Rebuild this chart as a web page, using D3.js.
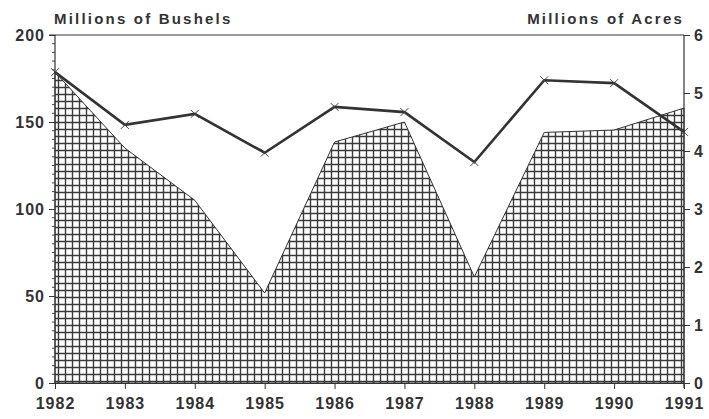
<!DOCTYPE html>
<html>
<head>
<meta charset="utf-8">
<script src="https://cdn.jsdelivr.net/npm/d3@7"></script>
<style>
  body { margin: 0; background: #fff; }
  text { font-family: "Liberation Sans", Arial, sans-serif; font-weight: bold; fill: #333; }
  .tick-label { font-size: 16px; letter-spacing: 1px; }
  .axis-title { font-size: 15px; letter-spacing: 2.2px; }
</style>
</head>
<body>
<div id="chart"></div>
<script>
const years = [1982, 1983, 1984, 1985, 1986, 1987, 1988, 1989, 1990, 1991];
const bushels = [178.7, 135, 105, 51.7, 138.5, 150, 61, 144, 145.4, 158];
const acres = [5.36, 4.45, 4.64, 3.97, 4.76, 4.67, 3.81, 5.22, 5.17, 4.33];
const leftTicks = [0, 50, 100, 150, 200];
const rightTicks = [0, 1, 2, 3, 4, 5, 6];

const width = 709, height = 419;
const margin = {top: 35, right: 25, bottom: 36, left: 55};
const innerwidth = width - margin.left - margin.right;
const innerheight = height - margin.top - margin.bottom;

const svg = d3.select("#chart")
    .append("svg")
    .attr("width", width)
    .attr("height", height);

// cross-hatch fill for the area
const pat = svg.append("defs").append("pattern")
    .attr("id", "grid")
    .attr("patternUnits", "userSpaceOnUse")
    .attr("width", 7)
    .attr("height", 7);
pat.append("path")
    .attr("d", "M3.5 0 V7 M0 3.5 H7")
    .attr("stroke", "#3a3a3a")
    .attr("stroke-width", 1.4);

const inner = svg.append("g")
    .attr("transform", `translate(${margin.left},${margin.top})`);

const xScale = d3.scaleLinear()
    .domain([1982, 1991])
    .range([0, innerwidth]);

const yLeft = d3.scaleLinear()
    .domain([0, 200])
    .range([innerheight, 0]);

const yRight = d3.scaleLinear()
    .domain([0, 6])
    .range([innerheight, 0]);

const area = d3.area()
    .x((d, i) => xScale(years[i]))
    .y0(innerheight)
    .y1(d => yLeft(d));

inner.append("path")
    .datum(bushels)
    .attr("d", area)
    .attr("fill", "url(#grid)")
    .attr("stroke", "#333")
    .attr("stroke-width", 1);

const line = d3.line()
    .x((d, i) => xScale(years[i]))
    .y(d => yRight(d));

inner.append("path")
    .datum(acres)
    .attr("d", line)
    .attr("fill", "none")
    .attr("stroke", "#333")
    .attr("stroke-width", 2.6);

inner.selectAll(".mark")
    .data(acres)
    .join("path")
    .attr("class", "mark")
    .attr("transform", (d, i) => `translate(${xScale(years[i])},${yRight(d)})`)
    .attr("d", "M-4 -4 L4 4 M-4 4 L4 -4")
    .attr("stroke", "#444")
    .attr("stroke-width", 1);

// top frame line
inner.append("line")
    .attr("x1", -6).attr("x2", innerwidth)
    .attr("y1", 0).attr("y2", 0)
    .attr("stroke", "#333").attr("stroke-width", 1.2);

// left axis with minor ticks
const leftAxis = d3.axisLeft(yLeft)
    .tickValues(leftTicks)
    .tickFormat(d3.format("d"))
    .tickSize(6)
    .tickPadding(4);
const gl = inner.append("g").call(leftAxis);
gl.select(".domain").remove();
gl.append("line").attr("y1", 0).attr("y2", innerheight).attr("stroke", "#333").attr("stroke-width", 1.2);
gl.selectAll(".tick text").attr("class", "tick-label").attr("fill", "#333");
gl.selectAll(".tick line").attr("stroke", "#333");
gl.selectAll(".minor")
    .data(d3.range(0, 201, 5).filter(v => v % 50 !== 0))
    .join("line")
    .attr("class", "minor")
    .attr("x1", -3).attr("x2", 0)
    .attr("y1", d => yLeft(d)).attr("y2", d => yLeft(d))
    .attr("stroke", "#444");

// right axis
const rightAxis = d3.axisRight(yRight)
    .tickValues(rightTicks)
    .tickFormat(d3.format("d"))
    .tickSize(6)
    .tickPadding(4);
const gr = inner.append("g")
    .attr("transform", `translate(${innerwidth},0)`)
    .call(rightAxis);
gr.select(".domain").remove();
gr.append("line").attr("y1", 0).attr("y2", innerheight + 5).attr("stroke", "#333").attr("stroke-width", 1.2);
gr.selectAll(".tick text").attr("class", "tick-label").attr("fill", "#333");
gr.selectAll(".tick line").attr("stroke", "#333");

// bottom axis
const bottomAxis = d3.axisBottom(xScale)
    .tickValues(years)
    .tickFormat(d3.format("d"))
    .tickSize(6)
    .tickPadding(9);
const gb = inner.append("g")
    .attr("transform", `translate(0,${innerheight})`)
    .call(bottomAxis);
gb.select(".domain").attr("stroke", "#333");
gb.selectAll(".tick text").attr("class", "tick-label").attr("fill", "#333");
gb.selectAll(".tick line").attr("stroke", "#333");

svg.append("text")
    .text("Millions of Bushels")
    .attr("class", "axis-title")
    .attr("x", 54)
    .attr("y", 24);

svg.append("text")
    .text("Millions of Acres")
    .attr("class", "axis-title")
    .attr("text-anchor", "end")
    .attr("x", 684)
    .attr("y", 24);
</script>
</body>
</html>
